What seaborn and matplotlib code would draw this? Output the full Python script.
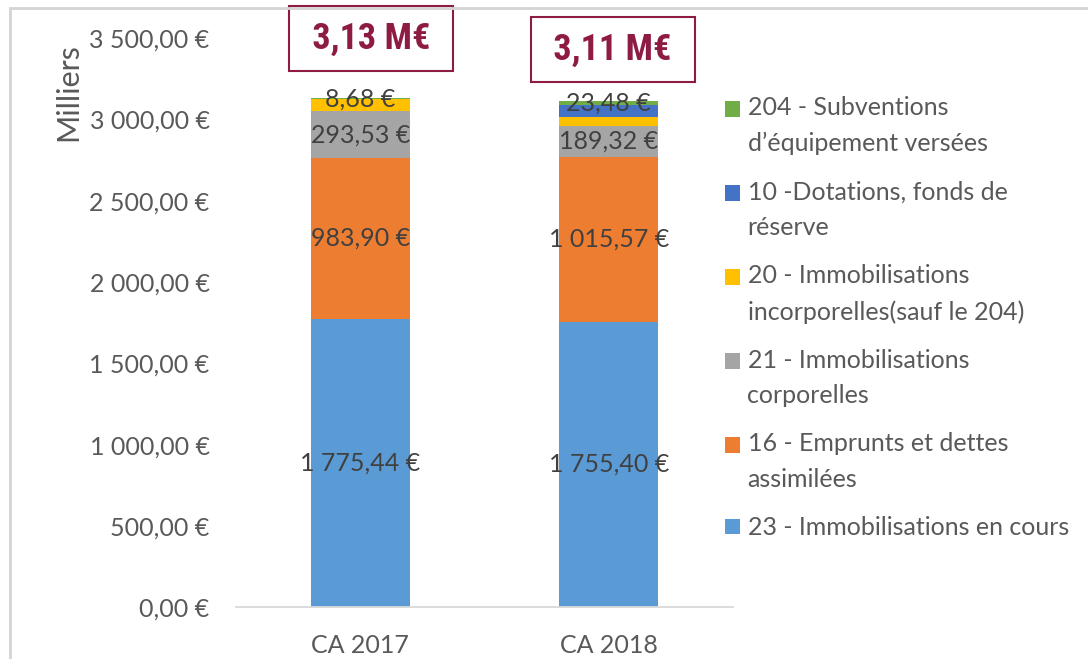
import matplotlib
matplotlib.use("Agg")
import numpy as np
import pandas as pd
import matplotlib.pyplot as plt
from matplotlib import font_manager
from matplotlib.patches import Rectangle
from matplotlib.legend_handler import HandlerPatch
from matplotlib.ticker import FuncFormatter, MultipleLocator
import seaborn as sns

# données en milliers d'euros, du bas vers le haut de la pile
annees = ["CA 2017", "CA 2018"]
immo_en_cours = [1775.44, 1755.40]       # 23
emprunts = [983.90, 1015.57]             # 16
immo_corporelles = [293.53, 189.32]      # 21
immo_incorporelles = [70.0, 55.0]        # 20 (pas d'étiquette)
dotations = [0.0, 72.0]                  # 10 (pas d'étiquette)
subventions = [8.68, 23.48]              # 204

noms_series = [
    "23 - Immobilisations en cours",
    "16 - Emprunts et dettes\nassimilées",
    "21 - Immobilisations\ncorporelles",
    "20 - Immobilisations\nincorporelles(sauf le 204)",
    "10 -Dotations, fonds de\nréserve",
    "204 - Subventions\nd\u2019équipement versées",
]
avec_etiquette = [True, True, True, False, False, True]
couleurs = ["#5B9BD5", "#ED7D31", "#A5A5A5", "#FFC000", "#4472C4", "#70AD47"]

series = np.array([immo_en_cours, emprunts, immo_corporelles,
                   immo_incorporelles, dotations, subventions])
cumul = np.cumsum(series, axis=0)


def euro(v):
    s = f"{v:,.2f}".replace(",", " ").replace(".", ",")
    return s + " €"


sns.set_theme(style="white")
plt.rcParams["font.family"] = ["Lato", "DejaVu Sans"]

noms_polices = {f.name for f in font_manager.fontManager.ttflist}
police_titre = "Liberation Sans"
for p in ["Liberation Sans Narrow", "Roboto Condensed"]:
    if p in noms_polices:
        police_titre = p
        break

gris = "#595959"
taille = 18
fig = plt.figure(figsize=(10.88, 6.59), dpi=100)
ax = fig.add_axes([0.2169, 0.0785, 0.4568, 0.8638])

# barres empilées : on dessine les cumuls du haut vers le bas
for k in reversed(range(len(series))):
    df = pd.DataFrame({"annee": annees, "valeur": cumul[k]})
    sns.barplot(data=df, x="annee", y="valeur", color=couleurs[k],
                saturation=1, width=0.4, linewidth=0, ax=ax, zorder=2)

# étiquettes de données
for k in range(len(series)):
    if not avec_etiquette[k]:
        continue
    for i in range(len(annees)):
        centre = cumul[k][i] - series[k][i] / 2
        ax.text(i, centre, euro(series[k][i]), ha="center", va="center",
                fontsize=taille, color="#404040", zorder=5)

# totaux encadrés
pos_totaux = [(0.044, 3495), (1.016, 3427)]
for i, (px, py) in enumerate(pos_totaux):
    total = f"{cumul[-1][i] / 1000:.2f}".replace(".", ",") + " M€"
    ax.text(px, py, " " + total + " ", ha="center", va="center",
            fontsize=26, fontweight="bold", color="#8E1B44",
            family=[police_titre, "DejaVu Sans"], clip_on=False, zorder=10,
            bbox=dict(boxstyle="square,pad=0.40", facecolor="white",
                      edgecolor="#8E1B44", linewidth=1.5))

ax.set_ylim(0, 3500)
ax.set_xlim(-0.5, 1.5)
ax.yaxis.set_major_locator(MultipleLocator(500))
ax.yaxis.set_major_formatter(FuncFormatter(lambda v, _: euro(v)))
ax.tick_params(axis="y", length=0, pad=19, labelsize=taille, labelcolor=gris)
ax.tick_params(axis="x", length=0, pad=19, labelsize=taille, labelcolor=gris)
ax.set_xlabel("")
ax.set_ylabel("Milliers", fontsize=22, color=gris)
ax.yaxis.label.set_va("center")
ax.yaxis.set_label_coords(-0.338, 0.905)

for nom, spine in ax.spines.items():
    spine.set_visible(nom == "bottom")
ax.spines["bottom"].set_color("#D9D9D9")
ax.spines["bottom"].set_linewidth(1.3)


# légende : carré aligné sur la première ligne du libellé
def carre(decalage):
    def f(legend, orig_handle, xdescent, ydescent, width, height, fontsize):
        return Rectangle((-xdescent, -ydescent + decalage), width, height)
    return f


poignees = []
handler_map = {}
for k in reversed(range(len(series))):
    r = Rectangle((0, 0), 1, 1, facecolor=couleurs[k], edgecolor="none")
    decalage = 12.6 if "\n" in noms_series[k] else 0
    handler_map[r] = HandlerPatch(patch_func=carre(decalage))
    poignees.append(r)
leg = fig.legend(poignees, noms_series[::-1], handler_map=handler_map,
                 loc="upper left", bbox_to_anchor=(725 / 1088, 1 - 96 / 659),
                 frameon=False, fontsize=taille, labelcolor=gris, borderpad=0,
                 borderaxespad=0, handlelength=0.58, handleheight=0.58,
                 handletextpad=0.32, labelspacing=1.0)
for t in leg.get_texts():
    t.set_linespacing(1.67)

# cadre du graphique
fig.patches.append(Rectangle((10 / 1088, -0.1), 1.2, 1.1 - 8 / 659,
                             transform=fig.transFigure, fill=False,
                             edgecolor="#D4D4D4", linewidth=2, zorder=0))

fig.savefig("out.png", dpi=100)
